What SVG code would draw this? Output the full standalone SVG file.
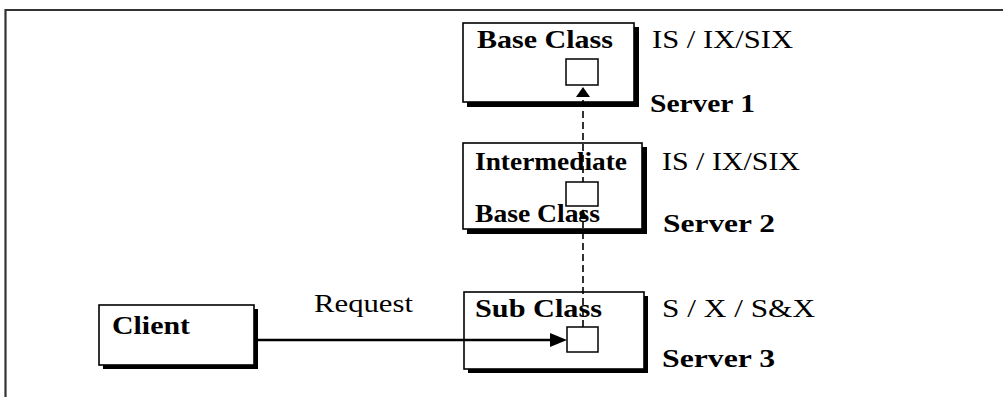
<svg xmlns="http://www.w3.org/2000/svg" width="1003" height="397" viewBox="0 0 1003 397">
<style>
.shadow{fill:#000}
.box{fill:#fff;stroke:#000;stroke-width:1.6}
.port{fill:#fff;stroke:#000;stroke-width:1.5}
.b{font-family:"Liberation Serif","Times New Roman",serif;font-weight:bold;font-size:25px;fill:#000}
.r{font-family:"Liberation Serif","Times New Roman",serif;font-size:25px;fill:#000}
.dash{stroke:#000;stroke-width:1.6;stroke-dasharray:7,4;fill:none}
.solid{stroke:#000;stroke-width:2.4;fill:none}
.frame{stroke:#333;stroke-width:2.2;fill:none}
</style>
<rect width="1003" height="397" fill="#fff"/>
<path class="frame" d="M5.5,397 V10 H1003"/>

<g id="base-class">
<rect class="shadow" x="467" y="27" width="172" height="80"/>
<rect class="box" x="463" y="23" width="171" height="79"/>
<text class="b" x="477" y="48" textLength="136" lengthAdjust="spacingAndGlyphs">Base Class</text>
<rect class="port" x="566" y="59" width="32" height="26"/>
<text class="r" x="652" y="48" textLength="141" lengthAdjust="spacingAndGlyphs">IS / IX/SIX</text>
<text class="b" x="650" y="112" textLength="105" lengthAdjust="spacingAndGlyphs">Server 1</text>
</g>

<g id="intermediate">
<rect class="shadow" x="467" y="147" width="180" height="87"/>
<rect class="box" x="463" y="143" width="179" height="86"/>
<text class="b" x="475" y="170" textLength="152" lengthAdjust="spacingAndGlyphs">Intermediate</text>
<text class="b" x="475" y="222" textLength="125" lengthAdjust="spacingAndGlyphs">Base Class</text>
<text class="r" x="662" y="170" textLength="138" lengthAdjust="spacingAndGlyphs">IS / IX/SIX</text>
<text class="b" x="663" y="232" textLength="112" lengthAdjust="spacingAndGlyphs">Server 2</text>
</g>

<g id="sub-class">
<rect class="shadow" x="468" y="296" width="180" height="77"/>
<rect class="box" x="464" y="292" width="180" height="77"/>
<text class="b" x="475" y="317" textLength="127" lengthAdjust="spacingAndGlyphs">Sub Class</text>
<text class="r" x="662" y="317" textLength="153" lengthAdjust="spacingAndGlyphs">S / X / S&amp;X</text>
<text class="b" x="662" y="367" textLength="113" lengthAdjust="spacingAndGlyphs">Server 3</text>
</g>

<g id="client">
<rect class="shadow" x="103" y="309" width="155" height="60"/>
<rect class="box" x="99" y="305" width="155" height="60"/>
<text class="b" x="112" y="334" textLength="78" lengthAdjust="spacingAndGlyphs">Client</text>
</g>

<g id="connectors">
<line class="dash" x1="583" y1="327" x2="583" y2="96"/>
<polygon points="583,87 576,97 590,97" fill="#000"/>
<polygon points="583,209 579,219 587,219" fill="#000"/>
<line class="solid" x1="254" y1="340" x2="552" y2="340"/>
<polygon points="567,340 550,333 550,347" fill="#000"/>
<text class="r" x="314" y="312" textLength="99" lengthAdjust="spacingAndGlyphs">Request</text>
</g>

<g id="ports">
<rect class="port" x="566" y="182" width="32" height="24"/>
<rect class="port" x="567" y="327" width="31" height="25"/>
</g>
</svg>
